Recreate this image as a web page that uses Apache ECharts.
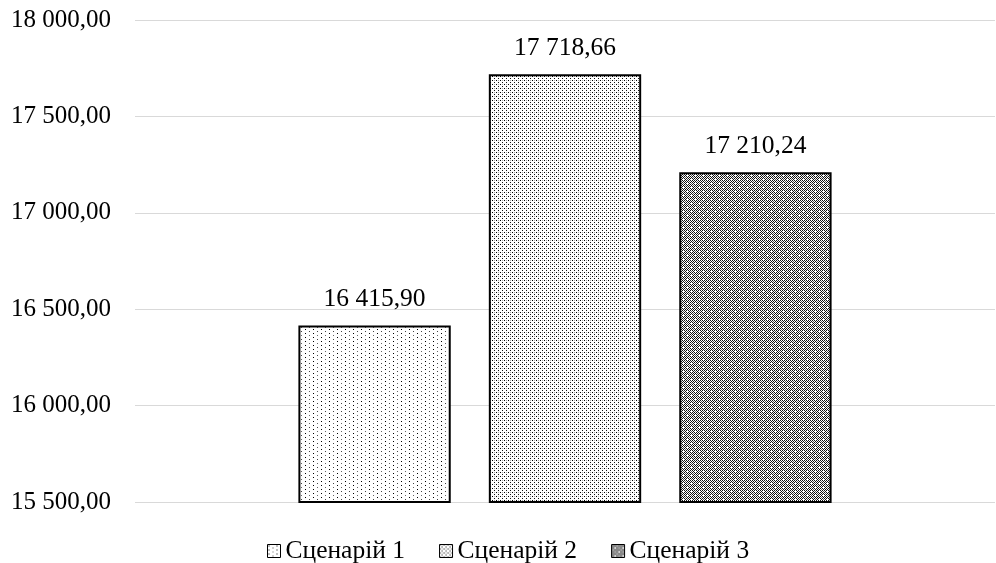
<!DOCTYPE html>
<html>
<head>
<meta charset="utf-8">
<script src="https://cdn.jsdelivr.net/npm/echarts@6/dist/echarts.min.js"></script>
<style>
  html, body { margin: 0; padding: 0; background: #fff; }
  #chart { width: 996px; height: 563px; }
</style>
</head>
<body>
<div id="chart"></div>
<script>
// Values per scenario
const categories = ['Сценарій'];
const seriesNames = ['Сценарій 1', 'Сценарій 2', 'Сценарій 3'];
const seriesValues = [16415.90, 17718.66, 17210.24];
const yTicks = { min: 15500, max: 18000, step: 500 };

// Number format: space as thousands separator, comma as decimal mark
function fmt(v) {
  const parts = Number(v).toFixed(2).split('.');
  return parts[0].replace(/\B(?=(\d{3})+(?!\d))/g, ' ') + ',' + parts[1];
}

// Small bitmap tiles used as hatch-like fills
function tile(size, painter) {
  const c = document.createElement('canvas');
  c.width = size; c.height = size;
  const ctx = c.getContext('2d');
  ctx.fillStyle = '#fff';
  ctx.fillRect(0, 0, size, size);
  painter(ctx, size);
  return c;
}
function px(ctx, x, y, col) { ctx.fillStyle = col; ctx.fillRect(x, y, 1, 1); }

const sparseDots = tile(8, function (ctx) {
  px(ctx, 1, 1, '#000'); px(ctx, 5, 3, '#444');
  px(ctx, 1, 5, '#000'); px(ctx, 5, 7, '#666');
});
const mediumDots = tile(4, function (ctx) {
  px(ctx, 0, 0, '#000'); px(ctx, 2, 2, '#111');
  px(ctx, 2, 0, '#aaa');
});
const weave = tile(8, function (ctx) {
  for (let y = 0; y < 8; y++) {
    for (let x = 0; x < 8; x++) {
      if ((x + y) % 2 === 0) px(ctx, x, y, '#111');
    }
  }
  // open cells in the weave
  [[3, 3], [7, 7]].forEach(function (p) { px(ctx, p[0], p[1], '#fff'); });
  [[3, 7], [7, 3], [1, 5], [5, 1]].forEach(function (p) { px(ctx, p[0], p[1], '#555'); });
});
const fills = [sparseDots, mediumDots, weave];

const font = '"Liberation Serif", "Times New Roman", serif';

const chart = echarts.init(document.getElementById('chart'), null, { renderer: 'canvas' });
chart.setOption({
  animation: false,
  textStyle: { fontFamily: font },
  grid: { left: 135, right: 1, top: 20, bottom: 61, containLabel: false },
  legend: {
    top: 533,
    left: 262,
    icon: 'rect',
    itemWidth: 13,
    itemHeight: 13,
    itemGap: 34,
    itemStyle: { borderWidth: 1, borderColor: '#000' },
    textStyle: { fontFamily: font, fontSize: 25.5, color: '#000', padding: [0, 0, 0, 0] },
    data: seriesNames
  },
  xAxis: {
    type: 'category',
    data: categories,
    axisLine: { show: false },
    axisTick: { show: false },
    axisLabel: { show: false }
  },
  yAxis: {
    type: 'value',
    min: yTicks.min,
    max: yTicks.max,
    interval: yTicks.step,
    axisLine: { show: false },
    axisTick: { show: false },
    axisLabel: {
      fontFamily: font, fontSize: 25, color: '#000', margin: 24,
      formatter: fmt
    },
    splitLine: { lineStyle: { color: '#d9d9d9', width: 1 } }
  },
  series: seriesNames.map(function (name, i) {
    return {
      name: name,
      type: 'bar',
      data: [seriesValues[i]],
      barGap: '25%',
      barCategoryGap: '38%',
      itemStyle: {
        color: { image: fills[i], repeat: 'repeat' },
        borderColor: '#000',
        borderWidth: 2
      },
      label: {
        show: true,
        position: 'top',
        distance: 13,
        fontFamily: font,
        fontSize: 25.5,
        color: '#000',
        formatter: function (p) { return fmt(p.value); }
      }
    };
  })
});
</script>
</body>
</html>
